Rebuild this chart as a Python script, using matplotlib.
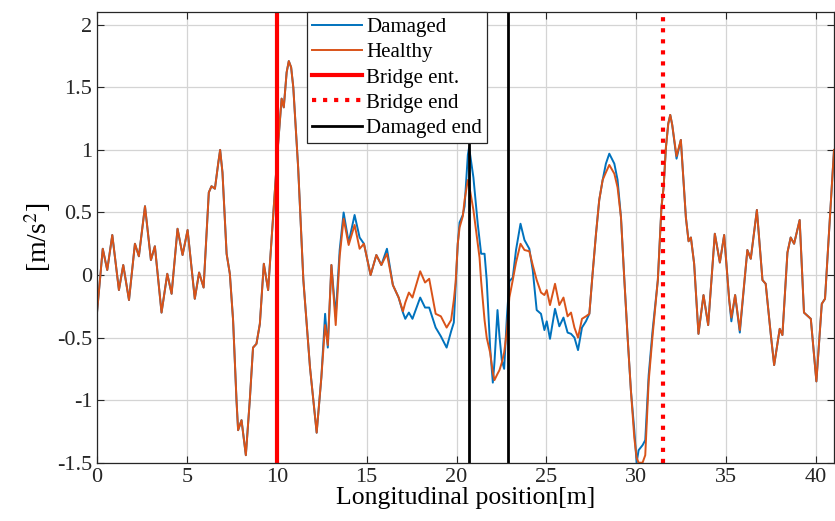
import numpy as np
import matplotlib
matplotlib.use("Agg")
import matplotlib.pyplot as plt
from matplotlib.ticker import FormatStrFormatter

# longitudinal position [m] and acceleration [m/s^2]
pos = [0, 0.32, 0.57, 0.85, 1.22, 1.46, 1.78, 2.11, 2.33, 2.67, 3.0, 3.22, 3.59, 3.91,
       4.15, 4.48, 4.76, 5.04, 5.44, 5.68, 5.93, 6.22, 6.37, 6.56, 6.75, 6.85, 6.98,
       7.21, 7.39, 7.57, 7.76, 7.85, 8.04, 8.28, 8.5, 8.68, 8.87, 9.06, 9.28, 9.52,
       9.81, 10.05, 10.27, 10.39, 10.55, 10.67, 10.8, 10.92, 11.19, 11.48, 11.85,
       12.22, 12.48,
       12.69, 12.84, 13.04, 13.28, 13.5, 13.72, 14.0, 14.33, 14.61, 14.85, 15.22,
       15.54, 15.82, 16.13, 16.46, 16.78, 17.02, 17.15, 17.35, 17.55, 17.98, 18.25,
       18.48, 18.84, 19.13, 19.45, 19.7, 19.85, 19.95, 20.07, 20.17, 20.35, 20.45,
       20.63, 20.7, 20.94, 21.18, 21.28, 21.37, 21.56, 21.68, 21.87, 22.02, 22.11,
       22.28, 22.39, 22.52, 22.65, 22.8, 22.94, 23.13, 23.31, 23.56, 23.78, 24.05,
       24.24, 24.46, 24.7, 24.89, 25.02, 25.2, 25.48, 25.72, 25.95, 26.18, 26.37,
       26.56, 26.76, 26.98, 27.2, 27.39, 27.57, 27.76, 27.94, 28.13, 28.31, 28.5,
       28.78, 28.96, 29.15, 29.33, 29.52, 29.7, 29.89, 30.02, 30.13, 30.35, 30.5,
       30.69, 30.91, 31.2, 31.4, 31.52, 31.65, 31.78, 31.89, 32.0, 32.24, 32.48,
       32.76, 32.91, 33.04, 33.22, 33.46, 33.74, 34.0, 34.37, 34.65, 34.89, 35.17,
       35.29, 35.5, 35.76, 36.18, 36.37, 36.71, 37.02, 37.2, 37.48, 37.67, 37.98,
       38.13, 38.41, 38.59, 38.78, 39.09, 39.33, 39.71, 40.02, 40.32, 40.5, 40.72, 41.0]

damaged = [-0.30, 0.21, 0.04, 0.32, -0.12, 0.08, -0.20, 0.25, 0.15, 0.55, 0.12, 0.23,
           -0.30, 0.01, -0.15, 0.37, 0.16, 0.36, -0.19, 0.02, -0.10, 0.66, 0.71, 0.69,
           0.90, 1.0, 0.82,
           0.17, 0.01, -0.36, -1.0, -1.24, -1.16, -1.44, -1.0, -0.58, -0.55, -0.39,
           0.09, -0.12, 0.49, 1.0, 1.41, 1.34, 1.62, 1.71, 1.66, 1.50, 0.86, -0.04,
           -0.74, -1.26, -0.82,
           -0.31, -0.58, 0.08, -0.33, 0.20, 0.50, 0.26, 0.48, 0.30, 0.25, 0.0,
           0.16, 0.08, 0.21, -0.08, -0.18, -0.30, -0.35, -0.30, -0.35, -0.18, -0.26,
           -0.26, -0.42, -0.49, -0.58, -0.45, -0.38, -0.10, 0.25, 0.42, 0.48, 0.55,
           0.96, 1.02, 0.78, 0.41, 0.28, 0.17, 0.17, -0.04, -0.58, -0.86, -0.70,
           -0.28, -0.49, -0.68, -0.75, -0.34, -0.05, -0.02, 0.20, 0.41, 0.28, 0.21,
           0.04, -0.28, -0.31, -0.44, -0.37, -0.51, -0.27, -0.41, -0.34, -0.46, -0.47,
           -0.50, -0.60, -0.42, -0.37, -0.31, 0.01, 0.33, 0.60, 0.76, 0.89, 0.97,
           0.89, 0.76, 0.46, -0.02, -0.50, -0.92, -1.24, -1.50, -1.40, -1.36, -1.32,
           -0.80, -0.44, -0.04, 0.54, 0.70, 1.02, 1.21, 1.28, 1.20, 0.93, 1.08,
           0.46, 0.27, 0.30, 0.09, -0.47, -0.16, -0.40, 0.33, 0.10, 0.32, -0.20,
           -0.37, -0.16, -0.46, 0.20, 0.13, 0.52, -0.04, -0.07, -0.47, -0.72, -0.43,
           -0.48, 0.18, 0.30, 0.25, 0.44, -0.30, -0.35, -0.85, -0.23, -0.19, 0.33, 1.0]

healthy = [-0.30, 0.21, 0.04, 0.32, -0.12, 0.08, -0.20, 0.25, 0.15, 0.55, 0.12, 0.23,
           -0.30, 0.01, -0.15, 0.37, 0.16, 0.36, -0.19, 0.02, -0.10, 0.66, 0.71, 0.69,
           0.90, 1.0, 0.82,
           0.17, 0.01, -0.36, -1.0, -1.24, -1.16, -1.44, -1.0, -0.58, -0.55, -0.39,
           0.09, -0.12, 0.49, 1.0, 1.41, 1.34, 1.62, 1.71, 1.66, 1.50, 0.86, -0.04,
           -0.74, -1.26, -0.82,
           -0.40, -0.56, 0.08, -0.40, 0.15, 0.45, 0.24, 0.40, 0.21, 0.25, 0.0,
           0.16, 0.08, 0.17, -0.08, -0.18, -0.29, -0.22, -0.14, -0.18, 0.03, -0.06,
           -0.03, -0.31, -0.33, -0.42, -0.36, -0.20, -0.06, 0.25, 0.38, 0.47, 0.60,
           0.76, 0.72, 0.52, 0.25, 0.14, -0.05, -0.36, -0.50, -0.62, -0.78, -0.84,
           -0.79, -0.76, -0.70, -0.62, -0.45, -0.18, -0.04, 0.10, 0.25, 0.20, 0.19,
           0.08, -0.04, -0.14, -0.16, -0.12, -0.24, -0.07, -0.24, -0.18, -0.33, -0.30,
           -0.42, -0.50, -0.35, -0.33, -0.31, 0.01, 0.33, 0.60, 0.76, 0.82, 0.88,
           0.81, 0.70, 0.46, -0.02, -0.50, -0.92, -1.30, -1.46, -1.50, -1.50, -1.44,
           -0.85, -0.48, -0.04, 0.54, 0.70, 1.02, 1.21, 1.28, 1.20, 0.95, 1.08,
           0.46, 0.27, 0.30, 0.09, -0.47, -0.16, -0.40, 0.33, 0.10, 0.32, -0.20,
           -0.34, -0.16, -0.44, 0.20, 0.13, 0.52, -0.04, -0.07, -0.47, -0.72, -0.43,
           -0.48, 0.18, 0.30, 0.25, 0.44, -0.30, -0.35, -0.85, -0.23, -0.19, 0.33, 1.0]

bridge_ent = 10.0
bridge_end = 31.5
damage_zone = [20.72, 22.88]

plt.rcParams['font.family'] = ['Liberation Serif', 'DejaVu Serif']
plt.rcParams['mathtext.fontset'] = 'stix'
plt.rcParams['axes.unicode_minus'] = False

fig = plt.figure(figsize=(8.35, 5.21), dpi=100)
ax = fig.add_axes([97 / 835, 1 - 462.7 / 521, 737 / 835, 450.4 / 521])

ax.plot(pos, damaged, color='#0072BD', lw=1.4, label='Damaged', solid_joinstyle='round')
ax.plot(pos, healthy, color='#D95319', lw=1.4, label='Healthy', solid_joinstyle='round')
ax.axvline(bridge_ent, color='#FF0000', lw=3, label='Bridge ent.')
ax.axvline(bridge_end, color='#FF0000', lw=3, ls=':', label='Bridge end')
ax.axvline(damage_zone[0], color='k', lw=2)
ax.axvline(damage_zone[1], color='k', lw=2, label='Damaged end')

ax.set_xlim(0, 41)
ax.set_ylim(-1.5, 2.1)
ax.set_xticks(np.arange(0, 41, 5))
ax.set_yticks([-1.5, -1, -0.5, 0, 0.5, 1, 1.5, 2])
ax.yaxis.set_major_formatter(FormatStrFormatter('%g'))
ax.grid(True, color='#d4d4d4', lw=0.9)
ax.set_axisbelow(True)
ax.tick_params(direction='in', top=True, right=True, length=5, width=0.8,
               labelsize=16, colors='#262626')
for s in ax.spines.values():
    s.set_color('#262626')
    s.set_linewidth(0.9)

ax.set_xlabel('Longitudinal position[m]', fontsize=18.5, labelpad=0)
ax.set_ylabel('[m/s$^{2}$]', fontsize=20, labelpad=3)

leg = ax.legend(loc='upper left', bbox_to_anchor=(0.2845, 1.0), borderaxespad=0,
                fontsize=15, fancybox=False, framealpha=1, edgecolor='#262626',
                handlelength=2.4, handletextpad=0.2, labelspacing=0.27,
                borderpad=0.25)
leg.get_frame().set_linewidth(0.9)

fig.savefig('out.png', dpi=100)
